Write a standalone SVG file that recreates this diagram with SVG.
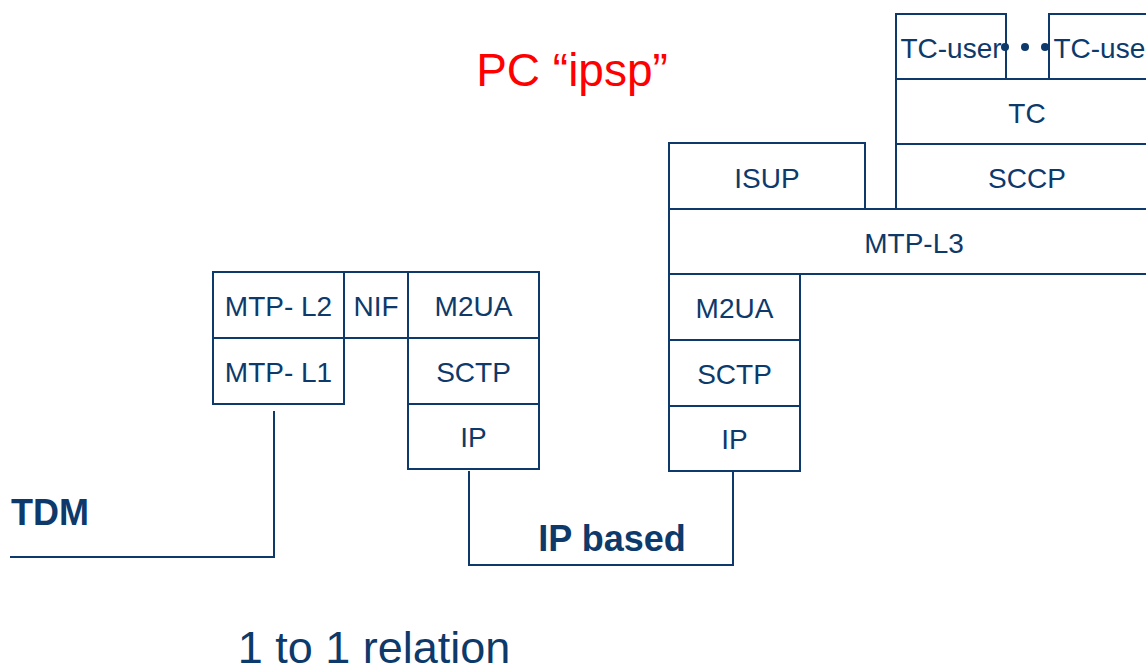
<svg xmlns="http://www.w3.org/2000/svg" width="1146" height="665" viewBox="0 0 1146 665">
<style>
.box{fill:#ffffff;stroke:#0d3a6a;stroke-width:2}
.lbl{font-family:"Liberation Sans",Arial,sans-serif;font-size:28px;fill:#0d3a6a;text-anchor:middle}
.big{font-family:"Liberation Sans",Arial,sans-serif;fill:#0d3a6a}
.conn{fill:none;stroke:#0d3a6a;stroke-width:2}
</style>
<rect width="1146" height="665" fill="#ffffff"/>
<text x="572" y="86" font-family="Liberation Sans, Arial, sans-serif" font-size="46" fill="#ff0000" text-anchor="middle">PC “ipsp”</text>

<g id="connectors">
  <polyline class="conn" points="274,411 274,557 10,557"/>
  <polyline class="conn" points="469,471 469,565 733,565 733,472"/>
</g>

<g id="mtp-l2"><rect class="box" x="213" y="272" width="131" height="66"/><text class="lbl" x="278.5" y="316">MTP- L2</text></g>
<g id="nif"><rect class="box" x="344" y="272" width="64" height="66"/><text class="lbl" x="376" y="316">NIF</text></g>
<g id="m2ua-left"><rect class="box" x="408" y="272" width="131" height="66"/><text class="lbl" x="473.5" y="316">M2UA</text></g>
<g id="mtp-l1"><rect class="box" x="213" y="338" width="131" height="66"/><text class="lbl" x="278.5" y="382">MTP- L1</text></g>
<g id="sctp-left"><rect class="box" x="408" y="338" width="131" height="66"/><text class="lbl" x="473.5" y="382">SCTP</text></g>
<g id="ip-left"><rect class="box" x="408" y="404" width="131" height="65"/><text class="lbl" x="473.5" y="447">IP</text></g>

<g id="isup"><rect class="box" x="669" y="143" width="196" height="66"/><text class="lbl" x="767" y="188">ISUP</text></g>
<g id="tc-user-1"><rect class="box" x="896" y="14" width="110" height="65"/><text class="lbl" x="951" y="58">TC-user</text></g>
<g id="tc-user-2"><rect class="box" x="1049" y="14" width="110" height="65"/><text class="lbl" x="1104" y="58">TC-user</text></g>
<g id="ellipsis"><circle cx="1005" cy="47" r="4" fill="#0d3a6a"/><circle cx="1025" cy="47" r="4" fill="#0d3a6a"/><circle cx="1045" cy="47" r="4" fill="#0d3a6a"/></g>
<g id="tc"><rect class="box" x="896" y="79" width="263" height="65"/><text class="lbl" x="1027" y="123">TC</text></g>
<g id="sccp"><rect class="box" x="896" y="144" width="263" height="65"/><text class="lbl" x="1027" y="188">SCCP</text></g>
<g id="mtp-l3"><rect class="box" x="669" y="209" width="490" height="65"/><text class="lbl" x="914" y="253">MTP-L3</text></g>
<g id="m2ua-right"><rect class="box" x="669" y="274" width="131" height="66"/><text class="lbl" x="734.5" y="318">M2UA</text></g>
<g id="sctp-right"><rect class="box" x="669" y="340" width="131" height="66"/><text class="lbl" x="734.5" y="384">SCTP</text></g>
<g id="ip-right"><rect class="box" x="669" y="406" width="131" height="65"/><text class="lbl" x="734.5" y="449">IP</text></g>

<text class="big" x="11" y="525" font-size="36" font-weight="bold">TDM</text>
<text class="big" x="612" y="551" font-size="36" font-weight="bold" text-anchor="middle">IP based</text>
<text class="big" x="374" y="663" font-size="45" text-anchor="middle">1 to 1 relation</text>
</svg>
